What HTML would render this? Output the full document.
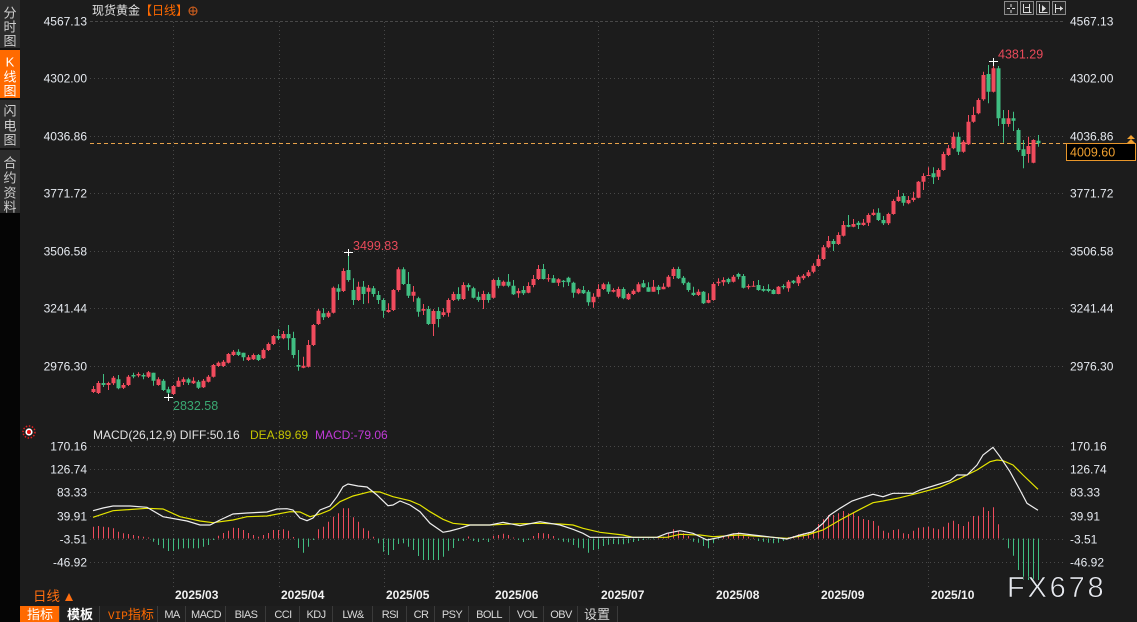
<!DOCTYPE html>
<html><head><meta charset="utf-8">
<style>
html,body{margin:0;padding:0;background:#1c1c1c;width:1137px;height:622px;overflow:hidden}
svg{display:block}
text{font-family:"Liberation Sans","Noto Sans CJK SC",sans-serif}
.mono{font-family:"Liberation Mono","Noto Sans CJK SC",monospace}
</style></head><body>
<svg id="s" width="1137" height="622" viewBox="0 0 1137 622" xmlns="http://www.w3.org/2000/svg">
<rect width="1137" height="622" fill="#1c1c1c"/>

<!-- sidebar -->
<rect x="0" y="0" width="20" height="213" fill="#2c2c2c"/>
<rect x="0" y="48" width="20" height="2" fill="#141414"/>
<rect x="0" y="50" width="20" height="48" fill="#ff6a00"/>
<rect x="0" y="98" width="20" height="2" fill="#141414"/>
<rect x="0" y="148" width="20" height="2" fill="#141414"/>
<rect x="0" y="213" width="20" height="409" fill="#050505"/>
<g font-size="13" text-anchor="middle" fill="#cfcfcf">
<text x="10" y="17.5">分</text><text x="10" y="31.5">时</text><text x="10" y="45.5">图</text>
<text x="10" y="66.5" fill="#fff">K</text><text x="10" y="81.5" fill="#fff">线</text><text x="10" y="95.5" fill="#fff">图</text>
<text x="10" y="115.5">闪</text><text x="10" y="130.5">电</text><text x="10" y="144.5">图</text>
<text x="10" y="167.5">合</text><text x="10" y="182.5">约</text><text x="10" y="197.5">资</text><text x="10" y="211.5">料</text>
</g>

<!-- grids -->
<g stroke="#484848" stroke-width="1" fill="none">
<path d="M90 21.5H1065" stroke-dasharray="3 2"/>
<path d="M90 78.5H1065M90 136.5H1065M90 193.5H1065M90 251.5H1065M90 308.5H1065M90 366.5H1065" stroke-dasharray="1 3"/>
<path d="M90 446.5H1065M90 469.5H1065M90 492.5H1065M90 516.5H1065M90 539.5H1065M90 562.5H1065" stroke-dasharray="1 3"/>
<path d="M173.5 22V588M279.5 22V588M384.5 22V588M493.5 22V588M598.5 22V588M713.5 22V588M818.5 22V588M928.5 22V588" stroke-dasharray="1 3"/>
</g>

<!-- title -->
<text x="92" y="14.5" font-size="12" fill="#e2e2e2">现货黄金</text>
<text x="140" y="14.5" font-size="12" fill="#ff6a00">【日线】</text>
<circle cx="193" cy="11" r="4" fill="none" stroke="#d8621e" stroke-width="1"/>
<path d="M189 11h8M193 7v8" stroke="#d8621e" stroke-width="1"/>

<!-- top right icons -->
<g fill="#262626" stroke="#8a8a8a" stroke-width="1">
<rect x="1004.5" y="1.5" width="13" height="13"/>
<rect x="1020.5" y="1.5" width="13" height="13"/>
<rect x="1036.5" y="1.5" width="13" height="13"/>
<rect x="1052.5" y="1.5" width="13" height="13"/>
</g>
<g stroke="#dddddd" stroke-width="1" fill="none">
<path d="M1011 4v3M1011 10v3M1007 8.5h3M1012 8.5h3"/>
<path d="M1023.5 4v9M1029.5 4v9M1023.5 12.5h8M1025 7.5h4"/>
<path d="M1039.5 4v9M1039.5 12.5h8"/>
<path d="M1055.5 4v9M1056 8.5h7"/>
</g>
<path d="M1042 5L1046 8.5L1042 12z" fill="#dddddd"/>
<path d="M1060 6l3 2.5l-3 2.5z" fill="#dddddd"/>

<!-- left axis labels -->
<g font-size="12" fill="#e6eaf0" text-anchor="end">
<text x="87" y="25.3">4567.13</text>
<text x="87" y="82.3">4302.00</text>
<text x="87" y="140.3">4036.86</text>
<text x="87" y="197.3">3771.72</text>
<text x="87" y="255.3">3506.58</text>
<text x="87" y="312.3">3241.44</text>
<text x="87" y="370.3">2976.30</text>
<text x="87" y="450.3">170.16</text>
<text x="87" y="473.3">126.74</text>
<text x="87" y="496.3">83.33</text>
<text x="87" y="520.3">39.91</text>
<text x="87" y="543.3">-3.51</text>
<text x="87" y="566.3">-46.92</text>
</g>
<!-- right axis labels -->
<g font-size="12" fill="#e6eaf0">
<text x="1070" y="25.3">4567.13</text>
<text x="1070" y="82.3">4302.00</text>
<text x="1070" y="140.3">4036.86</text>
<text x="1070" y="197.3">3771.72</text>
<text x="1070" y="255.3">3506.58</text>
<text x="1070" y="312.3">3241.44</text>
<text x="1070" y="370.3">2976.30</text>
<text x="1070" y="450.3">170.16</text>
<text x="1070" y="473.3">126.74</text>
<text x="1070" y="496.3">83.33</text>
<text x="1070" y="520.3">39.91</text>
<text x="1070" y="543.3">-3.51</text>
<text x="1070" y="566.3">-46.92</text>
</g>

<!-- current price line -->
<path d="M90 143.5H1066" stroke="#e8a24a" stroke-width="1" stroke-dasharray="4 3"/>
<rect x="1066.5" y="143.5" width="69" height="17" fill="#000" stroke="#e8962a" stroke-width="1"/>
<text x="1070" y="156.5" font-size="12.5" fill="#f0a030">4009.60</text>
<path d="M1127 139L1131 135L1135 139zM1127 143L1131 139L1135 143z" fill="#f0a030"/>

<g id="candles"></g>
<g id="hist"></g>
<g id="lines"></g>

<!-- markers -->
<g stroke="#ffffff" stroke-width="1">
<path d="M989 61.5h9M993.5 58v8"/>
<path d="M344 252.5h9M348.5 249v7"/>
<path d="M164 397.5h9M168.5 394v7"/>
</g>
<text x="998" y="58.5" font-size="12.5" fill="#e84a5a">4381.29</text>
<text x="353" y="250" font-size="12.5" fill="#e84a5a">3499.83</text>
<text x="173" y="410" font-size="12.5" fill="#3aa872">2832.58</text>

<!-- MACD legend -->
<circle cx="29" cy="432" r="6" fill="none" stroke="#e02020" stroke-width="1.5" stroke-dasharray="1.5 1.6"/>
<circle cx="29" cy="432" r="3.6" fill="#ffffff"/>
<circle cx="29" cy="432" r="2" fill="#e01010"/>
<text x="93" y="439" font-size="12" fill="#e2e2e2">MACD(26,12,9) DIFF:50.16</text>
<text x="250" y="439" font-size="12" fill="#c4c400">DEA:89.69</text>
<text x="315" y="439" font-size="12" fill="#c03ad6">MACD:-79.06</text>

<!-- date labels -->
<g font-size="12" font-weight="bold" fill="#f2f2f2">
<text x="175" y="599">2025/03</text>
<text x="281" y="599">2025/04</text>
<text x="386" y="599">2025/05</text>
<text x="495" y="599">2025/06</text>
<text x="601" y="599">2025/07</text>
<text x="716" y="599">2025/08</text>
<text x="821" y="599">2025/09</text>
<text x="931" y="599">2025/10</text>
</g>

<text x="33" y="601" font-size="13.5" fill="#ff6e0f">日线</text>
<path d="M65 601L69 593L73 601z" fill="#ff6e0f"/>

<!-- toolbar -->
<rect x="20" y="606" width="598" height="16" fill="#1f1f1f"/>
<rect x="20" y="606" width="39" height="16" fill="#ff6a00"/>
<g stroke="#3a3a3a" stroke-width="1">
<path d="M59.5 606v16M99.5 606v16M157.5 606v16M185.5 606v16M225.5 606v16M265.5 606v16M299.5 606v16M332.5 606v16M372.5 606v16M406.5 606v16M434.5 606v16M468.5 606v16M509.5 606v16M543.5 606v16M577.5 606v16M617.5 606v16"/>
</g>
<g font-size="13" text-anchor="middle">
<text x="40" y="619" fill="#ffffff">指标</text>
<text x="80" y="619" fill="#ffffff" font-weight="bold">模板</text>
<text x="597" y="619" fill="#d8d8d8">设置</text>
</g>
<text x="108" y="619" font-size="13" fill="#ff6a00"><tspan class="mono" font-size="11" font-family="Liberation Mono, monospace">VIP</tspan>指标</text>
<g class="mono" font-size="11" fill="#d8d8d8" text-anchor="middle" font-family="Liberation Mono, monospace" letter-spacing="-0.6">
<text x="172" y="618">MA</text>
<text x="206" y="618">MACD</text>
<text x="246" y="618">BIAS</text>
<text x="283" y="618">CCI</text>
<text x="316" y="618">KDJ</text>
<text x="353" y="618">LW&amp;</text>
<text x="390" y="618">RSI</text>
<text x="421" y="618">CR</text>
<text x="452" y="618">PSY</text>
<text x="489" y="618">BOLL</text>
<text x="527" y="618">VOL</text>
<text x="561" y="618">OBV</text>
</g>

<text id="wm" x="1007" y="597" font-size="29" letter-spacing="2.8" fill="#e6e8ee" stroke="#111" stroke-width="0.6">FX678</text>
</svg>
<script>
var C=[
['r',389,392,386,393],['r',383,393,381,394],['g',383,385,374,387],['r',383,385,381.7,390],['r',377.7,383.3,376,385],
['g',379.3,388.3,375,389.3],['r',385,387.7,383,389],['r',376.7,385,375,386],['g',375,376.5,372.7,378.3],['r',374,375.5,372.3,377.3],
['g',375,376.5,373.3,379.3],['r',372.3,376.7,371,378],['g',372.7,380.7,372.7,385.7],['r',379.3,385,377.3,385.7],['g',380.7,390,379,391],
['g',389.3,392.7,386.7,397.3],['r',386,394,385,395],['r',380.7,386.7,377.3,387],['r',379.3,382,377.3,385],['g',379.3,382.7,377.7,385],
['r',380.7,383.3,377.3,384],['g',381.7,387.7,380,389],['r',380.7,387.3,379,388],['r',376.7,381.7,375,382.5],['r',365,376.7,364,377.5],
['r',362.7,366,361.5,367],['r',361.7,366,360,367],['r',354,362.7,353,363.5],['r',351.7,355,350,356],['g',351.7,355,349.3,356],
['g',352.7,357.3,352.7,360.7],['r',357.3,360,355,361],['r',355,359.3,353.5,360],['g',355,360,354,361],['r',350,358.3,348.5,359],
['r',344,350,342.5,351],['r',336,344,335,345],['g',336,338.3,329.3,340],['r',334,338.3,331,339.3],['g',334,338.3,325,350],
['g',338,355,331.7,358.3],['g',365,366.7,350,370.7],['r',365.7,367.7,356.7,368.3],['r',345,366.7,340,367.5],['r',325,345,324,346],
['r',310.7,324,309,325],['g',313.3,317.3,308.3,320],['r',312.7,316.7,311,318],['r',287.7,312.7,286.5,313.5],['g',288.3,291.7,284.3,300],
['r',271,291,268.3,292],['g',270,280,252.7,281.7],['g',290,300,278.3,305],['r',286.7,300,281.7,301],['g',286.7,294,281,304],
['r',287.7,291.7,285,303.3],['g',288.3,294,286,296.7],['g',295,300,291,304],['g',300,310.7,298.3,317.7],['r',310,312,303.3,312.7],
['r',290,310,289,311],['r',269.3,290,267.3,291.7],['g',269.3,284,267.3,285],['g',284,295.7,272,298],['r',291.7,295.7,286,301.7],
['g',298.3,311.7,296.7,316.7],['r',309,310.7,304,315],['g',309,324,306,325],['r',311,324,309.3,336],['g',311,319,307.3,327.3],
['r',312.3,315,308.3,316.7],['r',300,312.7,298.3,316.7],['r',294,300,291.7,301],['g',294,299.3,287.3,300.7],['r',285,299,282.3,300],
['g',285,287.3,283.3,290.7],['g',288.3,297.7,286.7,298.5],['g',296.7,300,291.7,301.7],['r',294,300,290.7,309],['g',294,300,292.3,302.7],
['r',280,297.7,279,298.5],['g',280,285.7,277.3,288.3],['r',281.7,285.7,280.5,286.5],['g',281.7,285.7,274,287.3],['g',285.7,294.3,280,295],
['r',291,293.3,288.3,297.7],['g',290,293.3,286,295],['r',286,292.7,282.3,293.3],['r',279,285,275,287.3],['r',269,279,265,280],
['g',269,279,264,279.5],['r',278.3,279.3,274,281.7],['g',278.3,282.7,275,282.7],['r',279.3,282.7,278.3,286],['g',280.7,282,280,287.3],
['g',277.7,282.3,276.7,286],['g',282.7,292.7,281.7,297.7],['r',289.3,293.3,288.3,294.3],['g',290,293.3,286,294],['g',291.7,302.3,290,305.7],
['r',296.7,302.3,293.3,307.7],['r',289,296.7,284.3,297.5],['r',284.3,289,282.7,290],['g',284.3,291.7,281.7,294],['r',290,291.7,288.3,292.5],
['r',289,296.7,286.7,298.3],['g',289,298.3,287.3,299.3],['r',294,299.3,292.7,300],['r',290.7,294,289.3,295],['r',284.3,291.7,282.3,292.5],
['g',283.3,287.3,280,287.7],['g',287.3,291.7,282.3,291.7],['r',286.7,291.7,280,291.7],['g',286.7,290,285,294.3],['r',286.7,289.3,283.3,289.3],
['r',276.7,286.7,275,287.5],['r',269,276,267.3,279],['g',269,278.3,266.7,279],['g',277.7,283.3,276,285],['g',282.7,290,281.7,291.7],
['g',292.7,295,286.7,296],['r',291.7,295,289.3,296],['g',291.7,303.3,291,304],['r',300,302.7,293.3,303.3],['r',284,300,282.3,300.7],
['r',281.7,283.3,278.3,286],['r',280,282.3,277.3,285.7],['g',279,282.3,277.7,284],['r',276.7,281.7,275,282.5],['g',274,276.7,272.7,279.3],
['g',276,287.7,274,288.5],['r',286,287.3,284.3,289.3],['r',285.7,286.7,281,286.7],['g',285,290,280,290.7],['g',289,290.7,286,291.7],
['g',289,291,284.3,292.3],['g',290,294,289,294.3],['r',286.7,294,286,294.3],['g',286,287.3,284.3,289.3],['r',281.7,288.3,280,291.7],
['g',280.7,282.7,280,284],['r',276.7,283.3,275,286],['r',275.7,278.3,274,280],['r',272.3,276,270,277.3],['r',265.7,271.7,263.3,273.3],
['r',259,266,255,266.7],['r',247.3,259,245,260],['r',241,247.3,236,248.3],['g',241,244,239,251],['r',235,244,232.3,245],
['r',225,235.7,221,236.5],['g',225,226.7,215,227.3],['r',224,226.7,219,227.3],['g',222.7,225,221,229],['r',222.7,225,219,225.7],
['r',215,222.7,213.3,226],['r',212.7,215,209.3,215.7],['g',212.7,220,208.3,221],['g',220,223.3,216,225],['r',214,223.3,212.7,225],
['r',201,214,199.3,214.7],['r',196.7,201,190,201.7],['g',196,202.7,193.3,205.7],['r',200,203.3,196,204.3],['r',197.7,200,191.7,201.7],
['r',181.7,197.7,181,198.3],['r',176,181.7,173.3,190],['r',175,175.7,167.3,175.7],['g',173.3,177.3,167.3,184],['r',170,176.7,168.3,180],
['r',154,170,151.7,170.7],['r',148.3,155,145,156],['r',136.7,148.3,132.3,149.3],['g',136.7,151.7,132.3,155],['r',141.7,151.7,140,152.7],
['r',121.7,144.3,115,145],['r',115,121.7,106.7,122.7],['r',100,113.3,98.3,114.3],['r',75,99.3,71.7,100.7],['g',74,91.7,65,103.3],
['r',68.3,91.7,61.7,92.5],['g',68.3,118.3,66,126],['g',118.3,124,110,142.7],['r',118.3,124,110,126.7],['g',118.3,120.7,111.7,131],
['g',130,150,128.3,151.7],['g',149.3,156,140,168.3],['r',146,154,136.7,162.7],['r',140,162.7,139.3,163.3],['g',140.7,143.3,135,146.7]
];
var H=[526.7,526,526.7,527.3,528.3,531.7,533.3,534,535,536,
536.7,537.5,541.7,545,548.3,551,551,549.3,548.3,548.3,
548.3,548.3,546.7,545,540,535.7,533,530.7,527.7,528,
530,533,535,536.7,535,533,530,530,529.3,530.7,
537,548,552.7,546.7,540,529.3,526.7,521.7,516.7,513.3,
508.3,508.3,517.3,521.7,528.3,530.7,536.7,543.3,551.7,555,
550,544,543.3,546.7,550,556,560,560,560,560,
556.7,550.7,548,541,541,536.5,541,542,540,542,
535.7,535,533.7,535,537.5,540,542,540,536,533,
533.3,534,536,540,541.7,542.3,545,547.7,548.3,552.7,
550,549.3,546,544.7,544,544.3,544.3,543.3,542,541,
540,539.3,538.8,537.5,536.7,533.3,529.3,531,533.3,536,
541.7,542.7,546,548.3,543.3,539.3,536,535,533.3,532.3,
535,536.7,537.8,541,541.7,542.7,543.3,542.7,541,537.3,
536,534.3,533.3,532.3,530,524,519.3,515,515,513.3,
511,513.3,512.3,516,519,520,521,525.7,530.7,532.7,
530,529.3,533.3,534,530.7,527.7,527.3,526.7,528.3,529.3,
526.7,522.7,520.7,524,526,521.7,516,515.7,507.3,511,
507.3,524.3,539.5,548.3,555.7,570,580,580,580,580];
var W=[[93,510.7],[103,508],[113,506],[130,506],[147,507.3],[163,516.7],[187,521],[200,525],[210,525],[220,520],[233,514],[247,513],[267,512],[277,509],[287,508.7],[293,510],[300,518],[307,520.7],[313,518],[320,510],[330,506],[337,496.7],[343,486.7],[348,484],[358,486],[367,487],[377,495],[388,505.7],[393,505],[400,501],[410,505],[420,511.7],[430,523.3],[443,532.3],[450,531],[460,528.3],[470,525],[490,525],[503,522.3],[520,525.7],[540,521.7],[560,525],[573,529.3],[583,533.3],[590,537.3],[623,537.3],[657,537.3],[667,533.3],[680,530.7],[693,533.3],[707,540],[720,537.3],[733,534],[740,533.3],[753,535],[773,537.3],[787,539],[800,535],[813,531.7],[823,523.3],[830,515],[840,508.3],[852,501],[860,498.3],[873,494.3],[883,496.7],[893,493.3],[913,493.3],[920,490],[933,486],[950,480.7],[957,475],[967,475],[977,465],[983,455],[993,447.3],[1000,456.7],[1010,471.7],[1020,490],[1027,503.3],[1038,510.3]];
var Y=[[93,517.3],[113,510.7],[147,508.3],[163,509],[180,516.7],[200,521],[213,522.7],[233,520],[247,516.7],[267,516],[290,511.7],[300,512],[310,516.7],[320,514],[330,510],[340,501.7],[353,496],[370,491.7],[380,492],[393,496.7],[410,500.7],[420,505],[430,511.7],[443,519.3],[453,523.3],[470,525],[490,525],[510,524],[540,523.3],[560,524],[573,525],[583,528.3],[600,532.3],[623,535],[633,537.3],[667,537.3],[680,534.3],[700,535],[713,536.7],[740,535],[773,537.3],[787,538.3],[807,535],[823,530],[840,520],[860,509.3],[873,502.7],[883,501],[900,497.7],[920,492.7],[940,487.3],[960,478.3],[977,470],[990,461.7],[997,460],[1003,460.7],[1013,465],[1023,475],[1038,489.3]];
var RED="#f04b5d",GRN="#40be82",ns="http://www.w3.org/2000/svg";
function el(t,a,p){var e=document.createElementNS(ns,t);for(var k in a)e.setAttribute(k,a[k]);p.appendChild(e);return e;}
var rw="",rb="",gw="",gb="";
for(var i=0;i<C.length;i++){var c=C[i],x=93.5+5*i,t=c[1],b=c[2],wt=Math.min(c[3],t),wb=Math.max(c[4],b);if(b-t<1)b=t+1;
var w="M"+x+" "+wt+"V"+wb,r="M"+(x-2)+" "+t+"h4v"+(b-t).toFixed(2)+"h-4z";
if(c[0]=="r"){rw+=w;rb+=r;}else{gw+=w;gb+=r;}}
var g=document.getElementById("candles");
el("path",{d:rw,stroke:RED,"stroke-width":1,fill:"none"},g);
el("path",{d:rb,fill:RED},g);
el("path",{d:gw,stroke:GRN,"stroke-width":1,fill:"none"},g);
el("path",{d:gb,fill:GRN},g);
var hr="",hg="",base=538.5;
for(var i=0;i<H.length;i++){var x=93.5+5*i,e=H[i];
if(e<base)hr+="M"+x+" "+base+"V"+e;else hg+="M"+x+" "+base+"V"+Math.max(e,base+0.8);}
var hgp=document.getElementById("hist");
el("path",{d:hr,stroke:RED,"stroke-width":1,fill:"none"},hgp);
el("path",{d:hg,stroke:GRN,"stroke-width":1,fill:"none"},hgp);
function pts(P){return P.map(function(p){return p[0]+","+p[1];}).join(" ");}
var lg=document.getElementById("lines");
el("polyline",{points:pts(Y),stroke:"#e4e400","stroke-width":1.2,fill:"none"},lg);
el("polyline",{points:pts(W),stroke:"#eeeeee","stroke-width":1.2,fill:"none"},lg);
var s=document.getElementById("s"),wm=document.getElementById("wm");s.appendChild(wm);
</script>
</body></html>
